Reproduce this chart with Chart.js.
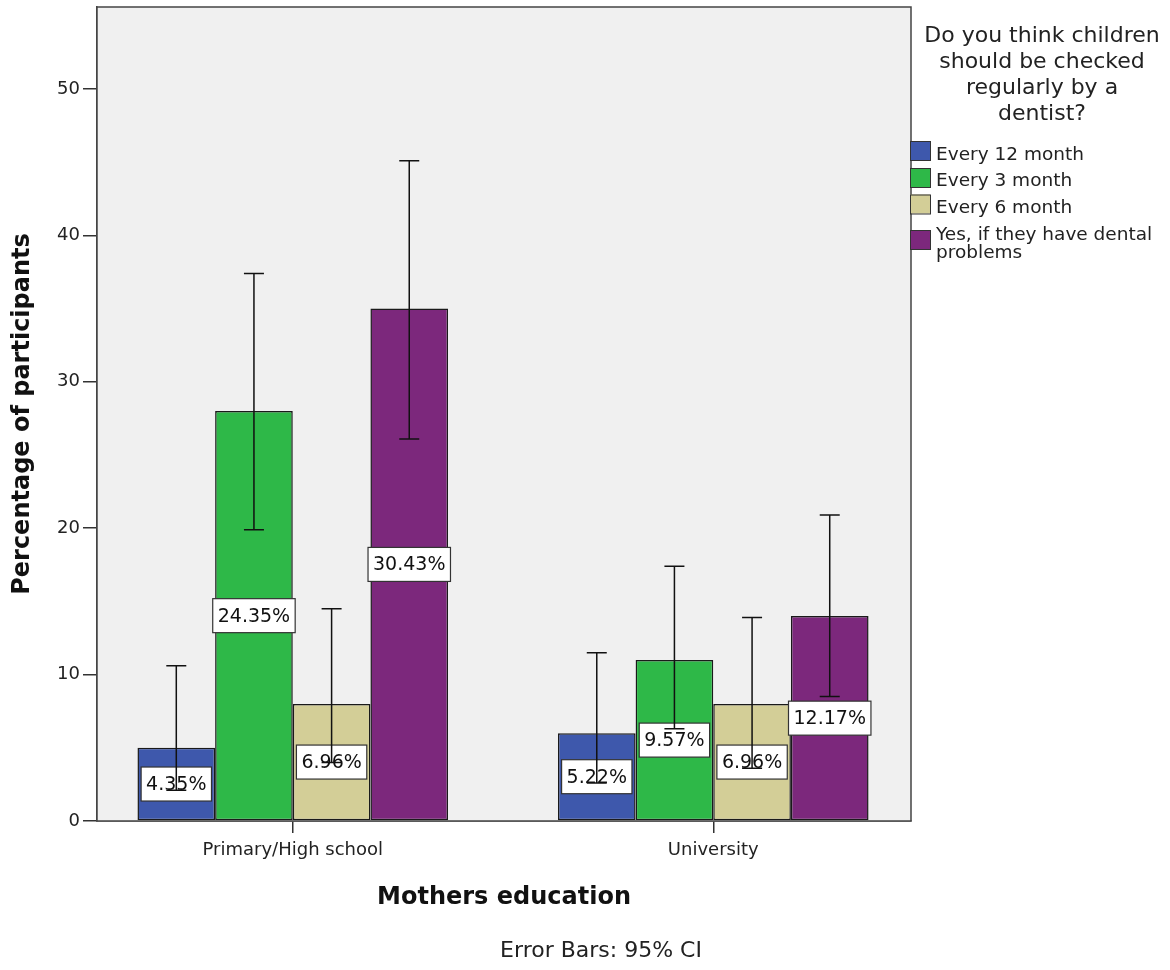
<!DOCTYPE html>
<html lang="en">
<head>
    <meta charset="UTF-8" />
    <title>Dentist check by mothers education</title>
    <script src="https://cdn.jsdelivr.net/npm/chart.js"></script>
    <style>
        body { margin: 0; background: #fff; }
        #chartBox { width: 1170px; height: 970px; }
    </style>
</head>
<body>
<div id="chartBox"><canvas id="dentistChart" width="1170" height="970"></canvas></div>

<script>
    // categories on the x axis
    const categories = ['Primary/High school', 'University'];

    // answer groups (legend)
    const seriesNames = ['Every 12 month', 'Every 3 month', 'Every 6 month', 'Yes, if they have dental problems'];
    const seriesColors = ['#3E58AC', '#2EB848', '#D3CE97', '#7C287C'];

    // bar heights (percentage of participants)
    const every12 = [5.0, 6.0];
    const every3 = [28.0, 11.0];
    const every6 = [8.0, 8.0];
    const yesProblems = [35.0, 14.0];

    // 95% CI bounds
    const every12Low = [2.1, 2.6];
    const every12High = [10.6, 11.5];
    const every3Low = [19.9, 6.3];
    const every3High = [37.4, 17.4];
    const every6Low = [4.0, 3.6];
    const every6High = [14.5, 13.9];
    const yesLow = [26.1, 8.5];
    const yesHigh = [45.1, 20.9];

    // value labels printed on the bars
    const every12Labels = ['4.35%', '5.22%'];
    const every3Labels = ['24.35%', '9.57%'];
    const every6Labels = ['6.96%', '6.96%'];
    const yesLabels = ['30.43%', '12.17%'];

    const yTicks = [0, 10, 20, 30, 40, 50];

    const seriesValues = [every12, every3, every6, yesProblems];
    const seriesLow = [every12Low, every3Low, every6Low, yesLow];
    const seriesHigh = [every12High, every3High, every6High, yesHigh];
    const seriesLabels = [every12Labels, every3Labels, every6Labels, yesLabels];

    const FONT = 'DejaVu Sans';
    const INK = '#222';
    Chart.defaults.font.family = FONT;
    Chart.defaults.color = INK;

    // grey plot background + frame
    const frame = {
        id: 'frame',
        beforeDatasetsDraw(chart) {
            const a = chart.chartArea, ctx = chart.ctx;
            ctx.save();
            ctx.fillStyle = '#F0F0F0';
            ctx.fillRect(a.left, a.top, a.right - a.left, a.bottom - a.top);
            ctx.restore();
        },
        afterDraw(chart) {
            const a = chart.chartArea, ctx = chart.ctx;
            ctx.save();
            ctx.strokeStyle = '#444';
            ctx.lineWidth = 1.5;
            ctx.strokeRect(a.left, a.top, a.right - a.left, a.bottom - a.top);
            ctx.restore();
        }
    };

    // boxed value labels, then error bars on top of them
    const barExtras = {
        id: 'barExtras',
        afterDatasetsDraw(chart) {
            const ctx = chart.ctx, y = chart.scales.y;
            ctx.save();
            ctx.font = '19px "' + FONT + '"';
            ctx.textAlign = 'center';
            ctx.textBaseline = 'middle';
            seriesLabels.forEach((labels, d) => {
                chart.getDatasetMeta(d).data.forEach((bar, i) => {
                    const cy = (bar.y + bar.base) / 2;
                    const w = ctx.measureText(labels[i]).width + 10;
                    const h = 34;
                    ctx.fillStyle = '#fff';
                    ctx.fillRect(bar.x - w / 2, cy - h / 2, w, h);
                    ctx.strokeStyle = '#333';
                    ctx.lineWidth = 1.2;
                    ctx.strokeRect(bar.x - w / 2, cy - h / 2, w, h);
                    ctx.fillStyle = '#111';
                    ctx.fillText(labels[i], bar.x, cy + 1);
                });
            });
            ctx.strokeStyle = '#111';
            ctx.lineWidth = 1.5;
            seriesLow.forEach((lows, d) => {
                chart.getDatasetMeta(d).data.forEach((bar, i) => {
                    const y1 = y.getPixelForValue(lows[i]);
                    const y2 = y.getPixelForValue(seriesHigh[d][i]);
                    ctx.beginPath();
                    ctx.moveTo(bar.x, y1); ctx.lineTo(bar.x, y2);
                    ctx.moveTo(bar.x - 10, y1); ctx.lineTo(bar.x + 10, y1);
                    ctx.moveTo(bar.x - 10, y2); ctx.lineTo(bar.x + 10, y2);
                    ctx.stroke();
                });
            });
            ctx.restore();
        }
    };

    // legend on the right and the footnote
    const sideLegend = {
        id: 'sideLegend',
        afterDraw(chart) {
            const ctx = chart.ctx;
            ctx.save();
            ctx.fillStyle = INK;
            ctx.textBaseline = 'alphabetic';
            ctx.font = '22px "' + FONT + '"';
            ctx.textAlign = 'center';
            ['Do you think children', 'should be checked', 'regularly by a', 'dentist?']
                .forEach((t, k) => ctx.fillText(t, 1042, 42 + k * 26));

            const swatchTops = [141, 168, 194.5, 230];
            const textLines = [['Every 12 month'], ['Every 3 month'], ['Every 6 month'], ['Yes, if they have dental', 'problems']];
            const baselines = [[159.5], [186], [213], [240, 258]];
            ctx.font = '18.5px "' + FONT + '"';
            ctx.textAlign = 'left';
            seriesNames.forEach((name, d) => {
                ctx.fillStyle = seriesColors[d];
                ctx.fillRect(910, swatchTops[d], 20, 19);
                ctx.strokeStyle = '#333';
                ctx.lineWidth = 1;
                ctx.strokeRect(910.5, swatchTops[d] + 0.5, 20, 19);
                ctx.fillStyle = INK;
                textLines[d].forEach((t, k) => ctx.fillText(t, 936, baselines[d][k]));
            });

            ctx.font = '22px "' + FONT + '"';
            ctx.textAlign = 'center';
            ctx.fillText('Error Bars: 95% CI', 601, 957);
            ctx.restore();
        }
    };

    const datasets = seriesNames.map((name, d) => ({
        label: name,
        data: seriesValues[d].map((v, i) => ({ x: i, y: v })),
        backgroundColor: seriesColors[d],
        borderColor: '#1a1a1a',
        borderWidth: 1.5,
        borderSkipped: false,
        categoryPercentage: 0.7387,
        barPercentage: 1.0
    }));

    new Chart(document.getElementById('dentistChart'), {
        type: 'bar',
        data: { datasets },
        options: {
            responsive: false,
            animation: false,
            layout: { padding: { left: 0, top: 7, right: 259, bottom: 0 } },
            plugins: {
                legend: { display: false },
                tooltip: { enabled: false }
            },
            scales: {
                x: {
                    type: 'linear',
                    offset: false,
                    min: -0.4656,
                    max: 1.4703,
                    afterBuildTicks: (s) => { s.ticks = categories.map((c, i) => ({ value: i })); },
                    afterFit: (s) => { s.height = 149; s.paddingLeft = 0; s.paddingRight = 0; },
                    ticks: {
                        font: { size: 18 },
                        color: INK,
                        padding: 7,
                        callback: (v) => categories[v]
                    },
                    grid: { offset: false, drawOnChartArea: false, drawTicks: true, tickLength: 12, color: '#333', lineWidth: 1.5 },
                    border: { display: true, color: '#444', width: 1.5 },
                    title: {
                        display: true,
                        text: 'Mothers education',
                        font: { size: 24, weight: 'bold' },
                        color: '#111',
                        padding: { top: 0, bottom: 58 }
                    }
                },
                y: {
                    min: 0,
                    max: 55.6,
                    afterBuildTicks: (s) => { s.ticks = yTicks.map(v => ({ value: v })); },
                    afterFit: (s) => { s.width = 97; s.paddingTop = 0; s.paddingBottom = 0; },
                    ticks: { font: { size: 18 }, color: INK, padding: 3 },
                    grid: { drawOnChartArea: false, drawTicks: true, tickLength: 14, color: '#333', lineWidth: 1.5 },
                    border: { display: true, color: '#444', width: 1.5 },
                    title: {
                        display: true,
                        text: 'Percentage of participants',
                        font: { size: 24, weight: 'bold' },
                        color: '#111',
                        padding: { top: 8, bottom: 0 }
                    }
                }
            }
        },
        plugins: [frame, barExtras, sideLegend]
    });
</script>
</body>
</html>
